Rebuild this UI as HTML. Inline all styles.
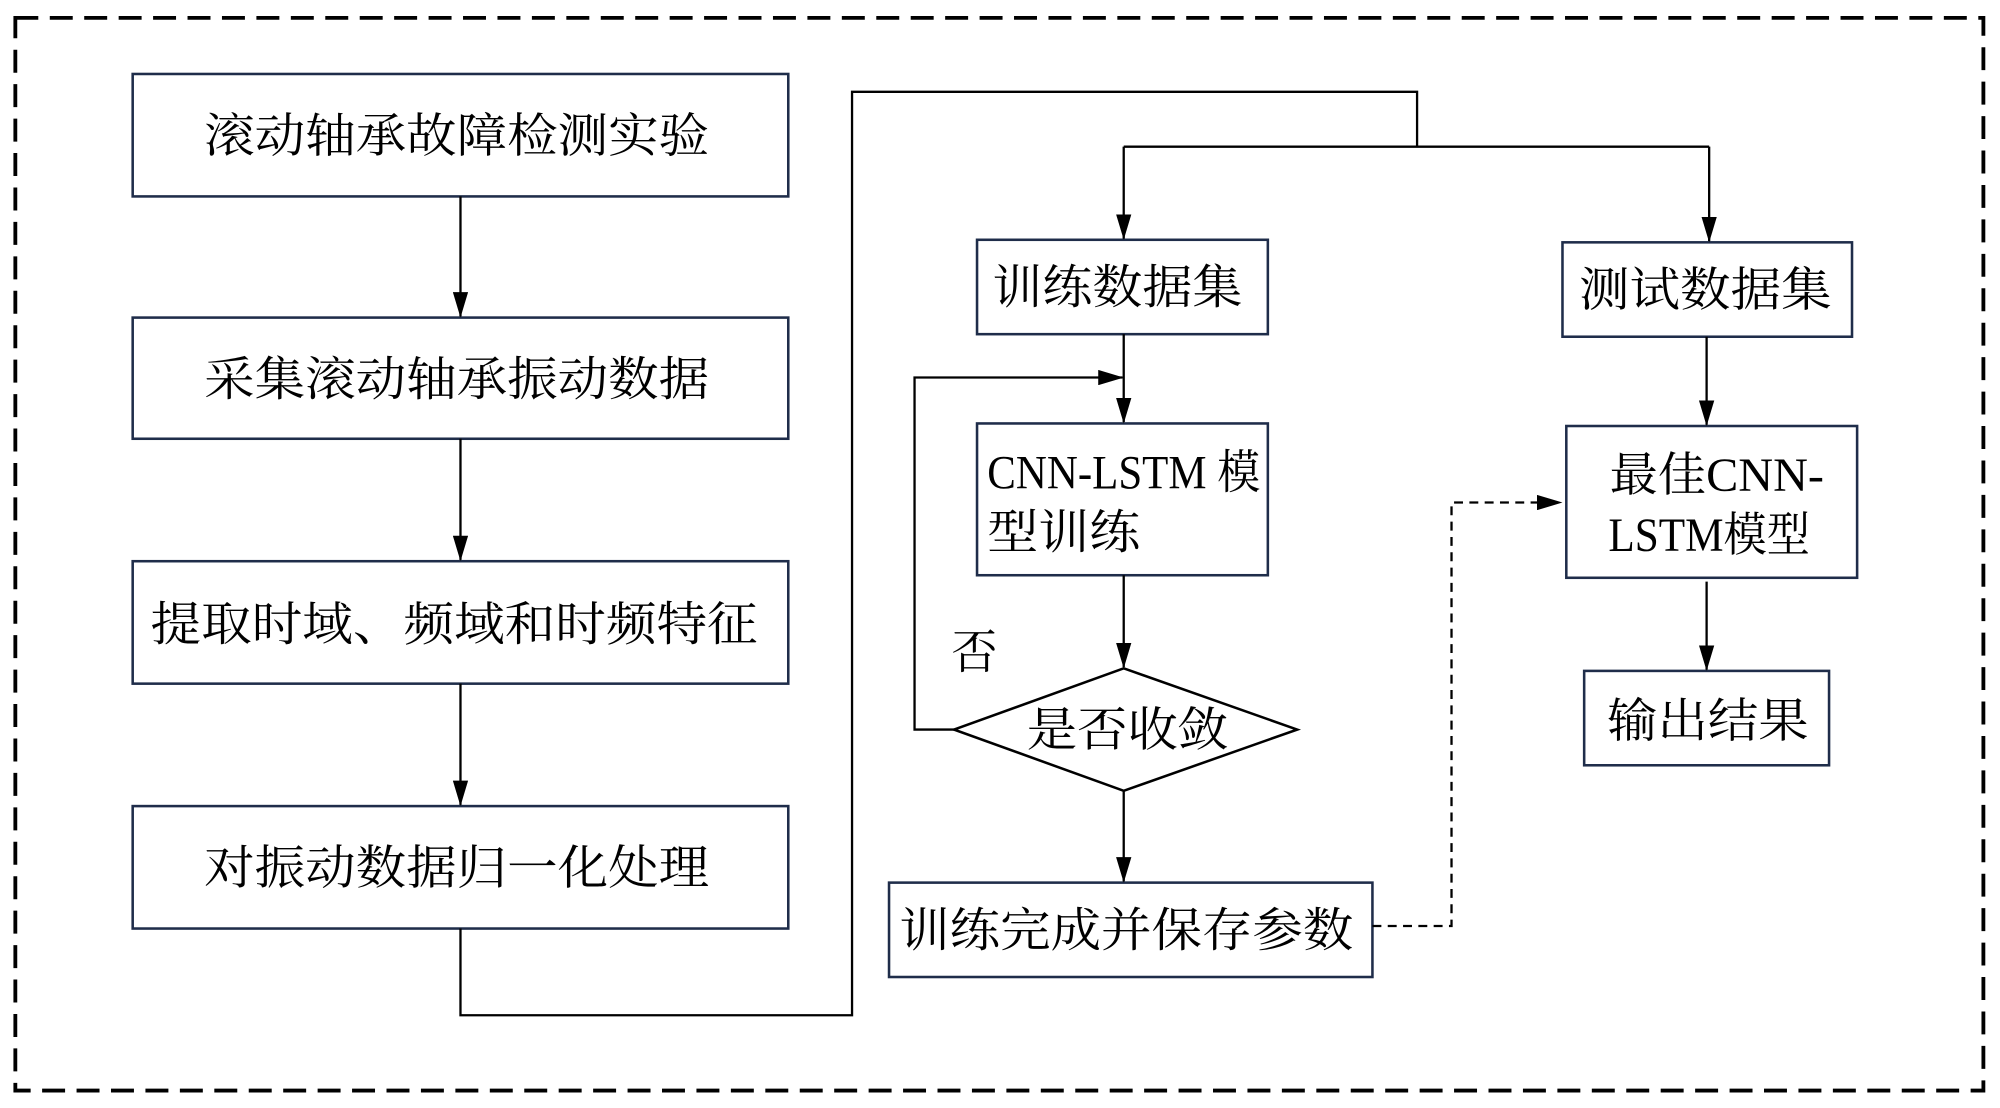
<!DOCTYPE html>
<html><head><meta charset="utf-8"><style>
html,body{margin:0;padding:0;background:#fff;}
svg{display:block;}
text{font-family:"Liberation Serif","Noto Serif CJK SC",serif;fill:#000;}
</style></head><body>
<svg width="2000" height="1108" viewBox="0 0 1568 868.7" xmlns="http://www.w3.org/2000/svg">
<defs>
<marker id="a" markerWidth="20" markerHeight="12" refX="19" refY="6" orient="auto" markerUnits="userSpaceOnUse" viewBox="0 0 20 12">
<path d="M0,0 L20,6 L0,12 z" fill="#000"/></marker>
</defs>
<rect x="12" y="14" width="1543" height="841" fill="none" stroke="#000" stroke-width="3" stroke-dasharray="18,9"/>
<g fill="#fff" stroke="#1f2d4a" stroke-width="2">
<rect x="104" y="58" width="514" height="96"/>
<rect x="104" y="249" width="514" height="95"/>
<rect x="104" y="440" width="514" height="96"/>
<rect x="104" y="632" width="514" height="96"/>
<rect x="766" y="188" width="228" height="74"/>
<rect x="1225" y="190" width="227" height="74"/>
<rect x="766" y="332" width="228" height="119"/>
<rect x="697" y="692" width="379" height="74"/>
<rect x="1228" y="334" width="228" height="119"/>
<rect x="1242" y="526" width="192" height="74"/>
</g>
<polygon points="748,572 881,524 1017,572 881,620" fill="#fff" stroke="#000" stroke-width="2"/>
<g stroke="#000" stroke-width="1.8" fill="none">
<line x1="361" y1="154" x2="361" y2="248" marker-end="url(#a)"/>
<line x1="361" y1="344" x2="361" y2="439" marker-end="url(#a)"/>
<line x1="361" y1="536" x2="361" y2="631" marker-end="url(#a)"/>
<polyline points="361,728 361,796 668,796 668,72 1111,72 1111,115"/>
<line x1="881" y1="115" x2="1340" y2="115"/>
<line x1="881" y1="115" x2="881" y2="187" marker-end="url(#a)"/>
<line x1="1340" y1="115" x2="1340" y2="189" marker-end="url(#a)"/>
<line x1="881" y1="262" x2="881" y2="331" marker-end="url(#a)"/>
<polyline points="748,572 717,572 717,296 880,296" marker-end="url(#a)"/>
<line x1="881" y1="451" x2="881" y2="523" marker-end="url(#a)"/>
<line x1="881" y1="620" x2="881" y2="691" marker-end="url(#a)"/>
<line x1="1338" y1="264" x2="1338" y2="333" marker-end="url(#a)"/>
<line x1="1338" y1="456" x2="1338" y2="525" marker-end="url(#a)"/>
<polyline points="1076,726 1138,726 1138,394 1224,394" stroke-dasharray="7,5" marker-end="url(#a)"/>
</g>
<g font-size="37">
<text x="160" y="119" textLength="396" lengthAdjust="spacingAndGlyphs">滚动轴承故障检测实验</text>
<text x="160" y="310" textLength="396" lengthAdjust="spacingAndGlyphs">采集滚动轴承振动数据</text>
<text x="118" y="502" textLength="476" lengthAdjust="spacingAndGlyphs">提取时域、频域和时频特征</text>
<text x="160" y="693" textLength="396" lengthAdjust="spacingAndGlyphs">对振动数据归一化处理</text>
<text x="778" y="238" textLength="196" lengthAdjust="spacingAndGlyphs">训练数据集</text>
<text x="1238" y="240" textLength="198" lengthAdjust="spacingAndGlyphs">测试数据集</text>
<text x="774" y="383" textLength="214" lengthAdjust="spacingAndGlyphs">CNN-LSTM 模</text>
<text x="774" y="430" textLength="120" lengthAdjust="spacingAndGlyphs">型训练</text>
<text x="805" y="585" textLength="158" lengthAdjust="spacingAndGlyphs">是否收敛</text>
<text x="746" y="524" textLength="36" lengthAdjust="spacingAndGlyphs">否</text>
<text x="705" y="742" textLength="356" lengthAdjust="spacingAndGlyphs">训练完成并保存参数</text>
<text x="1262" y="385" textLength="168" lengthAdjust="spacingAndGlyphs">最佳CNN-</text>
<text x="1261" y="432" textLength="158" lengthAdjust="spacingAndGlyphs">LSTM模型</text>
<text x="1260" y="578" textLength="158" lengthAdjust="spacingAndGlyphs">输出结果</text>
</g>
</svg>
</body></html>
